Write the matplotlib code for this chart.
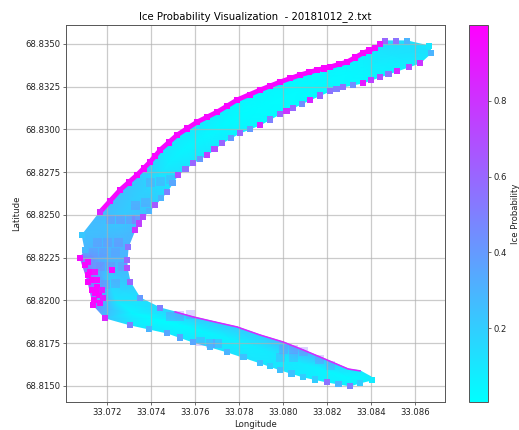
import numpy as np
import matplotlib
matplotlib.use('Agg')
import matplotlib.pyplot as plt
from matplotlib.cm import ScalarMappable
from matplotlib.colors import Normalize

# swath, one station per column: outer edge, middle, inner edge
outer_lon = [33.08662,33.08562,33.08462,33.08417,33.08362,33.08290,33.08213,33.08154,33.08077,33.07986,33.07895,33.07791,33.07700,33.07610,33.07519,33.07442,33.07396,33.07337,33.07260,33.07170,33.07088,33.07102,33.07079,33.07115,33.07138,33.07192,33.07306,33.07473,33.07591,33.07746,33.07895,33.07986,33.08090,33.08199,33.08304,33.08349,33.08404]
outer_lat = [68.83488,68.83518,68.83518,68.83477,68.83447,68.83395,68.83366,68.83348,68.83319,68.83278,68.83231,68.83173,68.83102,68.83044,68.82968,68.82880,68.82810,68.82734,68.82646,68.82518,68.82383,68.82295,68.82249,68.82108,68.81974,68.81898,68.81857,68.81810,68.81757,68.81699,68.81635,68.81594,68.81553,68.81523,68.81500,68.81518,68.81535]
mid_lon = [33.08667,33.08592,33.08490,33.08428,33.08362,33.08281,33.08213,33.08138,33.08061,33.07986,33.07895,33.07798,33.07712,33.07632,33.07555,33.07482,33.07435,33.07378,33.07312,33.07249,33.07192,33.07197,33.07186,33.07210,33.07244,33.07317,33.07408,33.07532,33.07641,33.07768,33.07895,33.07993,33.08090,33.08199,33.08300,33.08349,33.08401]
mid_lat = [68.83468,68.83454,68.83430,68.83392,68.83360,68.83322,68.83296,68.83260,68.83222,68.83185,68.83128,68.83076,68.83012,68.82948,68.82886,68.82807,68.82722,68.82646,68.82567,68.82465,68.82348,68.82266,68.82220,68.82108,68.81995,68.81927,68.81895,68.81857,68.81816,68.81772,68.81716,68.81676,68.81632,68.81588,68.81550,68.81553,68.81544]
inner_lon = [33.08671,33.08621,33.08517,33.08439,33.08362,33.08272,33.08213,33.08122,33.08045,33.07986,33.07895,33.07805,33.07723,33.07655,33.07591,33.07523,33.07473,33.07419,33.07365,33.07328,33.07297,33.07292,33.07292,33.07306,33.07351,33.07442,33.07510,33.07591,33.07691,33.07791,33.07895,33.08000,33.08090,33.08199,33.08295,33.08349,33.08399]
inner_lat = [68.83447,68.83389,68.83342,68.83307,68.83272,68.83249,68.83225,68.83173,68.83126,68.83091,68.83026,68.82980,68.82921,68.82851,68.82804,68.82734,68.82635,68.82558,68.82488,68.82412,68.82313,68.82237,68.82190,68.82108,68.82015,68.81956,68.81933,68.81904,68.81874,68.81845,68.81798,68.81757,68.81711,68.81652,68.81599,68.81588,68.81553]

outer_prob = [.08,.12,.15,.10,.08,.05,.05,.04,.04,.04,.04,.05,.08,.10,.10,.12,.18,.22,.25,.28,.25,.30,.55,.60,.50,.25,.10,.08,.10,.12,.10,.10,.08,.06,.06,.08,.08]
mid_prob = [.12,.12,.10,.08,.05,.03,.03,.03,.02,.02,.02,.02,.03,.04,.04,.07,.12,.18,.20,.22,.28,.30,.30,.18,.10,.04,.02,.02,.04,.06,.08,.10,.08,.04,.03,.04,.08]
inner_prob = [.12,.08,.05,.04,.03,.03,.03,.02,.02,.02,.03,.05,.08,.10,.10,.12,.15,.20,.25,.28,.30,.28,.28,.22,.12,.15,.20,.22,.22,.22,.20,.28,.32,.25,.12,.10,.08]

# dots along the rim of the swath
outer_dot_prob = [.10,.30,.60,.95,.97,.98,.98,.98,.98,.98,.98,.98,.97,.97,.97,.97,.97,.97,.95,.85,.22,.28,.95,.98,.95,.85,.50,.35,.35,.30,.25,.25,.20,.55,.50,.20,.08]
inner_dot_prob = [.30,.80,.85,.70,.90,.55,.55,.85,.60,.60,.85,.60,.60,.75,.60,.70,.50,.65,.70,.80,.55,.60,.70,.60,.40,.50]

rim_lon = [33.08512,33.08440,33.08390,33.08326,33.08252,33.08184,33.08116,33.08032,33.07941,33.07850,33.07746,33.07655,33.07565,33.07481,33.07419,33.07367,33.07299,33.07215,33.08569,33.08478,33.08400,33.08317,33.08242,33.08168,33.08084,33.08015,33.07940,33.07850,33.07764,33.07689,33.07623,33.07557,33.07498,33.07446,33.07392,33.07346,33.07222,33.07165,33.07390,33.07532,33.07668,33.07820,33.07940,33.08038,33.08145,33.08251]
rim_lat = [68.83518,68.83498,68.83462,68.83421,68.83381,68.83357,68.83334,68.83299,68.83255,68.83202,68.83138,68.83073,68.83006,68.82924,68.82845,68.82772,68.82690,68.82582,68.83365,68.83325,68.83290,68.83260,68.83237,68.83199,68.83150,68.83108,68.83058,68.83003,68.82950,68.82886,68.82827,68.82769,68.82685,68.82597,68.82523,68.82450,68.82180,68.82040,68.81833,68.81783,68.81728,68.81667,68.81615,68.81573,68.81538,68.81512]
rim_prob = [.55,.92,.97,.98,.98,.98,.98,.98,.98,.98,.98,.97,.97,.97,.97,.97,.97,.95,.70,.55,.75,.45,.50,.60,.45,.80,.50,.40,.40,.70,.40,.55,.35,.30,.30,.75,.98,.98,.30,.35,.30,.25,.20,.25,.20,.30]

# purple streaks inside the swath
streak_lon = [33.07396,33.07442,33.07487,33.07328,33.07374,33.07215,33.07260,33.07306,33.07337,33.07156,33.07201,33.07251,33.07138,33.07183,33.07238,33.07170,33.07215,33.07269,33.07192,33.07238,33.07487,33.07532,33.07578,33.07623,33.07669,33.07700,33.08000,33.08045,33.08090,33.07986,33.08045,33.08167,33.08213]
streak_lat = [68.82687,68.82693,68.82705,68.82558,68.82570,68.82471,68.82471,68.82471,68.82471,68.82336,68.82336,68.82336,68.82278,68.82278,68.82278,68.82196,68.82196,68.82196,68.82091,68.82102,68.81904,68.81909,68.81915,68.81757,68.81751,68.81751,68.81711,68.81711,68.81699,68.81664,68.81664,68.81652,68.81617]
streak_prob = [.5,.5,.45,.55,.5,.6,.65,.6,.7,.5,.5,.55,.5,.5,.45,.55,.55,.5,.55,.5,.55,.6,.55,.55,.6,.55,.55,.6,.55,.45,.45,.55,.5]

# magenta patch on the left of the bend
patch_lon = [33.07102,33.07124,33.07133,33.07156,33.07165,33.07170,33.07147,33.07115,33.07147,33.07156,33.07179,33.07183,33.07115,33.07133,33.07142]
patch_lat = [68.82208,68.82167,68.82120,68.82079,68.82032,68.81985,68.82044,68.82225,68.82167,68.82120,68.82061,68.82015,68.82149,68.82061,68.82003]
patch_prob = [.98,.98,.98,.98,.98,.95,.98,.95,.92,.95,.90,.88,.98,.98,.98]

lon_ticks = [33.072, 33.074, 33.076, 33.078, 33.080, 33.082, 33.084, 33.086]
lat_ticks = [68.8150, 68.8175, 68.8200, 68.8225, 68.8250, 68.8275, 68.8300, 68.8325, 68.8350]
bar_ticks = [0.2, 0.4, 0.6, 0.8]

W, H = 519, 430
fig = plt.figure(figsize=(W/100, H/100), dpi=100)
ax = fig.add_axes([66/W, 1-402/H, 379/W, 377/H])
cax = fig.add_axes([469/W, 1-402/H, 19/W, 377/H])

norm = Normalize(vmin=0.005, vmax=1.0)
cool = plt.get_cmap('cool')
X = np.array([outer_lon, mid_lon, inner_lon])
Y = np.array([outer_lat, mid_lat, inner_lat])
C = np.array([outer_prob, mid_prob, inner_prob])
ax.pcolormesh(X, Y, C, cmap='cool', norm=norm, shading='gouraud', zorder=2)

ax.scatter(streak_lon, streak_lat, c=streak_prob, cmap='cool', norm=norm, marker='s', s=42, alpha=0.3, linewidths=0, zorder=2.5)

# rims: thick along the top arm, thin along the top of the bottom arm
ax.plot(outer_lon[3:20], outer_lat[3:20], color=cool(0.97), lw=3.4, solid_capstyle='round', zorder=2.7)
ax.plot(inner_lon[26:36], inner_lat[26:36], color=cool(0.85), lw=1.1, zorder=2.7)

dot_lon = outer_lon + inner_lon[:26] + rim_lon + patch_lon
dot_lat = outer_lat + inner_lat[:26] + rim_lat + patch_lat
dot_prob = outer_dot_prob + inner_dot_prob + rim_prob + patch_prob
ax.scatter(dot_lon, dot_lat, c=dot_prob, cmap='cool', norm=norm, marker='s', s=20, linewidths=0, zorder=3)

ax.set_xlim(33.07015, 33.08734)
ax.set_ylim(68.81406, 68.83611)
ax.set_xticks(lon_ticks)
ax.set_xticklabels(['%.3f' % v for v in lon_ticks])
ax.set_yticks(lat_ticks)
ax.set_yticklabels(['%.4f' % v for v in lat_ticks])
ax.tick_params(labelsize=6.1, length=2.1, width=0.5, pad=2.1, color='#333333', labelcolor='#222222')
ax.grid(True, color='#b0b0b0', linewidth=0.9, alpha=0.65, zorder=4)
for s in ax.spines.values():
	s.set_linewidth(0.7)
	s.set_color('#555555')
	s.set_zorder(5)
ax.set_axisbelow(False)
ax.set_title('Ice Probability Visualization  - 20181012_2.txt', fontsize=7.3, pad=4)
ax.set_xlabel('Longitude', fontsize=6.1, labelpad=2, color='#222222')
ax.set_ylabel('Latitude', fontsize=6.1, labelpad=2.5, color='#222222')

cb = fig.colorbar(ScalarMappable(norm=norm, cmap='cool'), cax=cax)
cb.set_ticks(bar_ticks)
cb.ax.tick_params(labelsize=6.1, length=2.1, width=0.5, pad=2.1, color='#333333', labelcolor='#222222')
cb.outline.set_linewidth(0.7)
cb.outline.set_edgecolor('#555555')
cb.set_label('Ice Probability', fontsize=6.1, labelpad=3, color='#222222')

fig.savefig('out.png', dpi=100)
